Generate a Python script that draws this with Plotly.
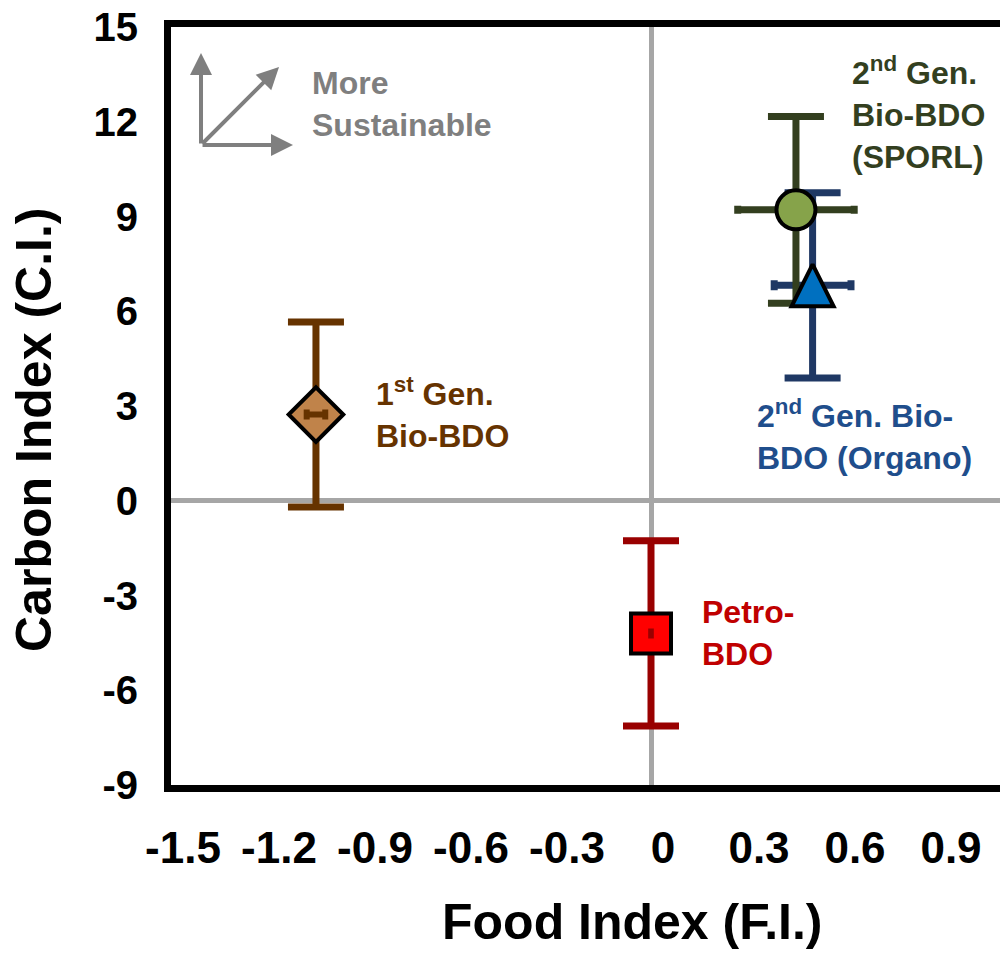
import plotly.graph_objects as go

# ---------------- data ----------------
x_ticks = [-1.5, -1.2, -0.9, -0.6, -0.3, 0, 0.3, 0.6, 0.9]
x_tick_labels = ["-1.5", "-1.2", "-0.9", "-0.6", "-0.3", "0", "0.3", "0.6", "0.9"]
y_ticks = [-9, -6, -3, 0, 3, 6, 9, 12, 15]
y_tick_labels = ["-9", "-6", "-3", "0", "3", "6", "9", "12", "15"]

first_gen_x = [-1.047]
first_gen_y = [2.73]
first_gen_xerr = [0.029]
first_gen_yerr = [2.93]

petro_x = [0.0]
petro_y = [-4.2]
petro_xerr = [0.001]
petro_yerr = [2.93]

sporl_x = [0.453]
sporl_y = [9.21]
sporl_xerr = [0.182]
sporl_yerr = [2.96]

organo_x = [0.505]
organo_y = [6.82]
organo_xerr = [0.12]
organo_yerr = [2.93]

FONT = "Liberation Sans, Arial, sans-serif"

BROWN_LINE = "#663300"
BROWN_FILL = "#C0834A"
RED_LINE = "#990000"
RED_FILL = "#FF0000"
RED_TEXT = "#C00000"
GREEN_LINE = "#333F1F"
GREEN_FILL = "#86A34A"
BLUE_LINE = "#1F3864"
BLUE_FILL = "#0070C0"
BLUE_TEXT = "#1F4E8C"
GREY = "#7F7F7F"

NOMARK = dict(size=1, color="rgba(0,0,0,0)")

fig = go.Figure()

# 1st gen: y-error below marker, marker, x-error on top
fig.add_trace(go.Scatter(x=first_gen_x, y=first_gen_y, mode="markers", marker=NOMARK,
                         error_y=dict(type="data", array=first_gen_yerr, color=BROWN_LINE,
                                      thickness=7, width=28), hoverinfo="skip"))
fig.add_trace(go.Scatter(x=first_gen_x, y=first_gen_y, mode="markers",
                         marker=dict(symbol="diamond", size=42, color=BROWN_FILL,
                                     line=dict(color="black", width=4))))
fig.add_trace(go.Scatter(x=first_gen_x, y=first_gen_y, mode="markers", marker=NOMARK,
                         error_x=dict(type="data", array=first_gen_xerr, color=BROWN_LINE,
                                      thickness=6, width=5), hoverinfo="skip"))

# Petro
fig.add_trace(go.Scatter(x=petro_x, y=petro_y, mode="markers", marker=NOMARK,
                         error_y=dict(type="data", array=petro_yerr, color=RED_LINE,
                                      thickness=7, width=28), hoverinfo="skip"))
fig.add_trace(go.Scatter(x=petro_x, y=petro_y, mode="markers",
                         marker=dict(symbol="square", size=40, color=RED_FILL,
                                     line=dict(color="black", width=4))))
fig.add_trace(go.Scatter(x=petro_x, y=petro_y, mode="markers", marker=NOMARK,
                         error_x=dict(type="data", array=petro_xerr, color=RED_LINE,
                                      thickness=5, width=5), hoverinfo="skip"))

# Organo error bars (below SPORL)
fig.add_trace(go.Scatter(x=organo_x, y=organo_y, mode="markers", marker=NOMARK,
                         error_y=dict(type="data", array=organo_yerr, color=BLUE_LINE,
                                      thickness=7, width=28),
                         error_x=dict(type="data", array=organo_xerr, color=BLUE_LINE,
                                      thickness=7, width=5), hoverinfo="skip"))
# SPORL
fig.add_trace(go.Scatter(x=sporl_x, y=sporl_y, mode="markers",
                         marker=dict(symbol="circle", size=39, color=GREEN_FILL,
                                     line=dict(color="black", width=4)),
                         error_y=dict(type="data", array=sporl_yerr, color=GREEN_LINE,
                                      thickness=7, width=28),
                         error_x=dict(type="data", array=sporl_xerr, color=GREEN_LINE,
                                      thickness=7, width=4)))
# Organo marker on top (upward triangle centred on the point)
fig.add_trace(go.Scatter(x=organo_x, y=organo_y, mode="markers",
                         marker=dict(symbol="arrow-down", angle=180, size=42, standoff=21,
                                     color=BLUE_FILL, line=dict(color="black", width=4))))

# ---------------- labels ----------------
def lab(x, y, text, color, xshift, yshift, xanchor="left"):
    fig.add_annotation(x=x, y=y, xref="x", yref="y", text=text, showarrow=False,
                       xanchor=xanchor, yanchor="middle", align="left",
                       xshift=xshift, yshift=yshift,
                       font=dict(family=FONT, size=32, color=color, weight=700))

lab(first_gen_x[0], first_gen_y[0], "1<sup>st</sup> Gen.<br>Bio-BDO", BROWN_LINE, 58, 2)
lab(petro_x[0], petro_y[0], "Petro-<br>BDO", RED_TEXT, 49, 0)
lab(sporl_x[0], sporl_y[0], "2<sup>nd</sup> Gen.<br>Bio-BDO<br>(SPORL)", GREEN_LINE, 54, 97)
lab(organo_x[0], organo_y[0], "2<sup>nd</sup> Gen. Bio-<br>BDO (Organo)", BLUE_TEXT, -58, -150)

# "More Sustainable" indicator
fig.add_annotation(x=0.1675, y=0.899, xref="paper", yref="paper", text="More<br>Sustainable",
                   showarrow=False, xanchor="left", yanchor="middle", align="left",
                   font=dict(family=FONT, size=32, color=GREY, weight=700))
for tip, off in [((0.0362, 0.9657), (0, 92)), ((0.1472, 0.8443), (-92, 0)),
                 ((0.1303, 0.9472), (-78, 78))]:
    fig.add_annotation(x=tip[0], y=tip[1], xref="paper", yref="paper", text="",
                       showarrow=True, ax=off[0], ay=off[1], axref="pixel", ayref="pixel",
                       arrowhead=2, arrowsize=1.1, arrowwidth=4, arrowcolor=GREY)

# axis titles
fig.add_annotation(x=-0.1653, y=0.4683, xref="paper", yref="paper", text="Carbon Index (C.I.)",
                   textangle=-90, showarrow=False, xanchor="center", yanchor="middle",
                   font=dict(family=FONT, size=50, color="black", weight=700))
fig.add_annotation(x=0.5561, y=-0.1807, xref="paper", yref="paper", text="Food Index (F.I.)",
                   showarrow=False, xanchor="center", yanchor="middle",
                   font=dict(family=FONT, size=50, color="black", weight=700))

fig.update_layout(
    width=1000, height=958,
    margin=dict(l=171, r=0, t=27, b=173),
    paper_bgcolor="white", plot_bgcolor="white",
    showlegend=False,
    font=dict(family=FONT, color="black"),
    xaxis=dict(range=[-1.5, -1.5 + 829 / 320], tickvals=x_ticks, ticktext=x_tick_labels,
               showgrid=False, zeroline=True, zerolinecolor="#A6A6A6", zerolinewidth=5,
               showline=True, linecolor="black", linewidth=7, mirror=True,
               ticks="", ticklabelshift=12, ticklabelstandoff=18,
               tickfont=dict(family=FONT, size=44, color="black", weight=700)),
    yaxis=dict(range=[-9, 15], tickvals=y_ticks, ticktext=y_tick_labels,
               showgrid=False, zeroline=True, zerolinecolor="#A6A6A6", zerolinewidth=5,
               showline=True, linecolor="black", linewidth=7, mirror=False,
               ticks="", ticklabelstandoff=18,
               tickfont=dict(family=FONT, size=40, color="black", weight=700)),
)

fig.write_html("out.html")
